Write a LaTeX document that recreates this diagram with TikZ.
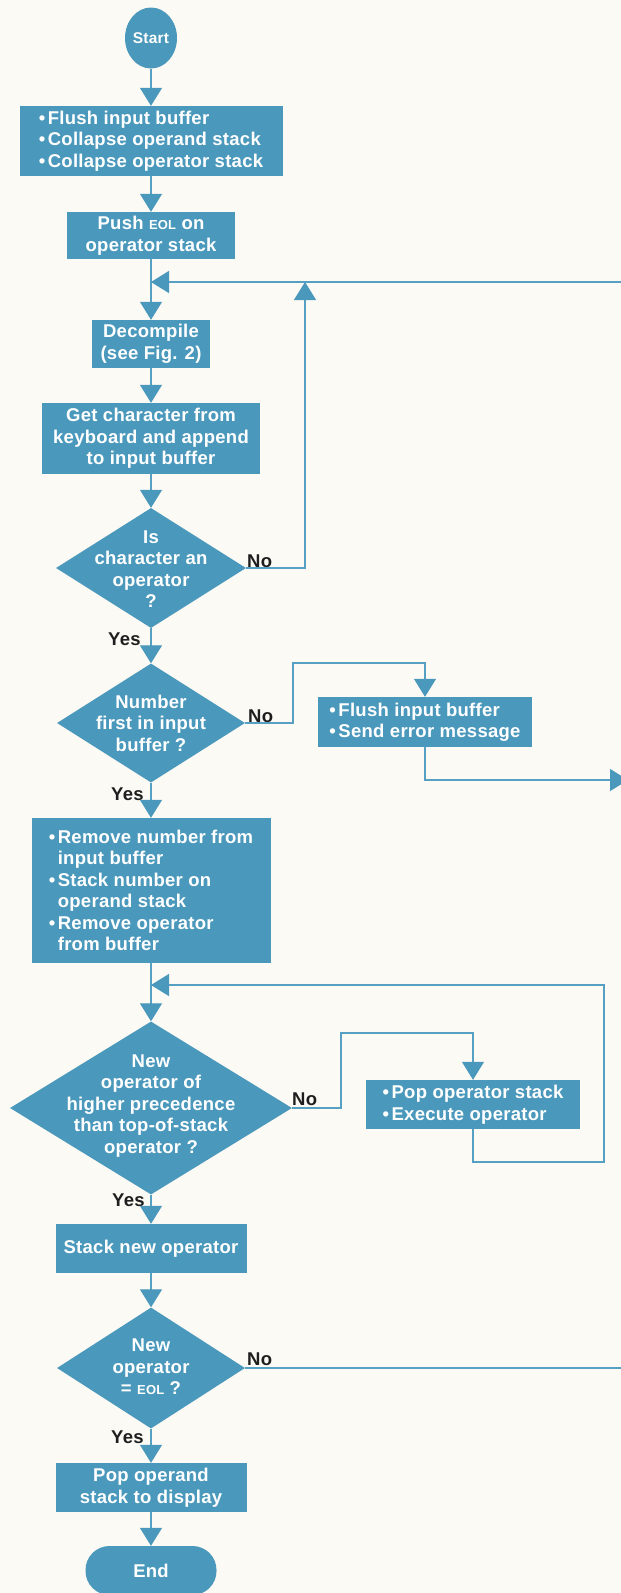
\documentclass[tikz,border=0pt]{standalone}
\usepackage{fontspec}
\setmainfont{Liberation Sans}[LetterSpace=1.5]
\usetikzlibrary{arrows.meta,shapes.geometric}
\definecolor{hpblue}{RGB}{74,152,187}
\definecolor{hpline}{RGB}{86,160,195}
\definecolor{paper}{RGB}{252,250,245}
\definecolor{lbl}{RGB}{30,30,30}
\newcommand\hpbul{\makebox[9pt][l]{\textbullet}}
\newcommand\hpind{\hspace*{9pt}}
\newcommand\hpeol{{\fontsize{13}{13}\selectfont EOL}}
\tikzset{
  every node/.style={font=\fontsize{18.5}{21.5}\selectfont\bfseries},
  procbox/.style={rectangle, fill=hpblue, text=white, inner sep=0pt, align=center},
  bulbox/.style={procbox, align=left},
  decbox/.style={diamond, fill=hpblue, inner sep=0pt},
  dtext/.style={text=white, inner sep=0pt, align=center},
  startnode/.style={ellipse, fill=hpblue, text=white, inner sep=0pt,
    minimum width=52pt, minimum height=61pt, font=\fontsize{15.5}{17}\selectfont\bfseries},
  endnode/.style={rectangle, rounded corners=24pt, fill=hpblue, text=white, inner sep=0pt,
    minimum width=131pt, minimum height=49pt},
  yn/.style={text=lbl, inner sep=0pt, anchor=base west},
  conn/.style={draw=hpline, line width=1.3pt},
  arr/.style={conn, -{Triangle[width=22pt,length=18pt,color=hpblue]}},
}
\begin{document}
\begin{tikzpicture}[x=1pt,y=-1pt]
\useasboundingbox (0,0) rectangle (621,1593);
\fill[paper] (0,0) rectangle (621,1593);
\clip (0,0) rectangle (621,1593);

% main column
\node[startnode] (start) at (151,38) {Start};
\node[bulbox, minimum width=263pt, minimum height=70pt] (b1) at (151,141)
  {\hpbul Flush input buffer\\ \hpbul Collapse operand stack\\ \hpbul Collapse operator stack};
\node[procbox, minimum width=168pt, minimum height=47pt] (b2) at (151,235.5)
  {Push \hpeol{} on\\operator stack};
\coordinate (j1) at (151,282);
\node[procbox, minimum width=118pt, minimum height=48pt] (dec) at (151,344)
  {Decompile\\(see Fig. 2)};
\node[procbox, minimum width=218pt, minimum height=71pt] (gc) at (151,438.5)
  {Get character from\\keyboard and append\\to input buffer};
\node[decbox, minimum width=190pt, minimum height=120pt] (d1) at (151,568) {};
\node[dtext] (d1t) at (151,569) {Is\\character an\\operator\\?};
\node[decbox, minimum width=188pt, minimum height=119pt] (d2) at (151,723) {};
\node[dtext] (d2t) at (151,723) {Number\\first in input\\buffer ?};
\node[bulbox, minimum width=239pt, minimum height=145pt] (bb) at (151,890.5)
  {\hpbul Remove number from\\ \hpind input buffer\\ \hpbul Stack number on\\ \hpind operand stack\\ \hpbul Remove operator\\ \hpind from buffer};
\coordinate (j2) at (151,985);
\node[decbox, minimum width=282pt, minimum height=173pt] (d3) at (151,1108) {};
\node[dtext] (d3t) at (151,1106) {New\\operator of\\higher precedence\\than top-of-stack\\operator ?};
\node[procbox, minimum width=191pt, minimum height=49pt] (sn) at (151,1248.5)
  {Stack new operator};
\node[decbox, minimum width=188pt, minimum height=121pt] (d4) at (151,1368) {};
\node[dtext] (d4t) at (151,1367) {New\\operator\\= \hpeol{} ?};
\node[procbox, minimum width=191pt, minimum height=49pt] (po) at (151,1487.5)
  {Pop operand\\stack to display};
\node[endnode] (end) at (151,1570.5) {End};

% side boxes
\node[bulbox, minimum width=214pt, minimum height=50pt] (err) at (425,722)
  {\hpbul Flush input buffer\\ \hpbul Send error message};
\node[bulbox, minimum width=214pt, minimum height=49pt] (pop) at (473,1104.5)
  {\hpbul Pop operator stack\\ \hpbul Execute operator};

% labels
\node[yn] (n1) at (247,567) {No};
\node[yn] (y1) at (108,645) {Yes};
\node[yn] (n2) at (248,722) {No};
\node[yn] (y2) at (111,800) {Yes};
\node[yn] (n3) at (292,1105) {No};
\node[yn] (y3) at (112,1206) {Yes};
\node[yn] (n4) at (247,1365) {No};
\node[yn] (y4) at (111,1443) {Yes};

% edge coordinates
\coordinate (r1) at (625,282);
\coordinate (u1) at (305,282);
\coordinate (r2) at (628,780);
\coordinate (r3) at (625,1368);

% connectors
\draw[arr] (start.south) -- (b1.north);
\draw[arr] (b1.south) -- (b2.north);
\draw[conn] (b2.south) -- (j1);
\draw[arr] (j1) -- (dec.north);
\draw[arr] (r1) -- (j1);
\draw[arr] (dec.south) -- (gc.north);
\draw[arr] (gc.south) -- (d1.north);
\draw[arr] (d1.east) -| (u1);
\draw[arr] (d1.south) -- (d2.north);
\draw[arr] (d2.east) -- (293,723) -- (293,663) -| (err.north);
\draw[arr] (err.south) |- (r2);
\draw[arr] (d2.south) -- (bb.north);
\draw[conn] (bb.south) -- (j2);
\draw[arr] (j2) -- (d3.north);
\draw[arr] (d3.east) -- (341,1108) -- (341,1033) -| (pop.north);
\draw[arr] (pop.south) |- (604,1162) |- (j2);
\draw[arr] (d3.south) -- (sn.north);
\draw[arr] (sn.south) -- (d4.north);
\draw[conn] (d4.east) -- (r3);
\draw[arr] (d4.south) -- (po.north);
\draw[arr] (po.south) -- (end.north);
\end{tikzpicture}
\end{document}
